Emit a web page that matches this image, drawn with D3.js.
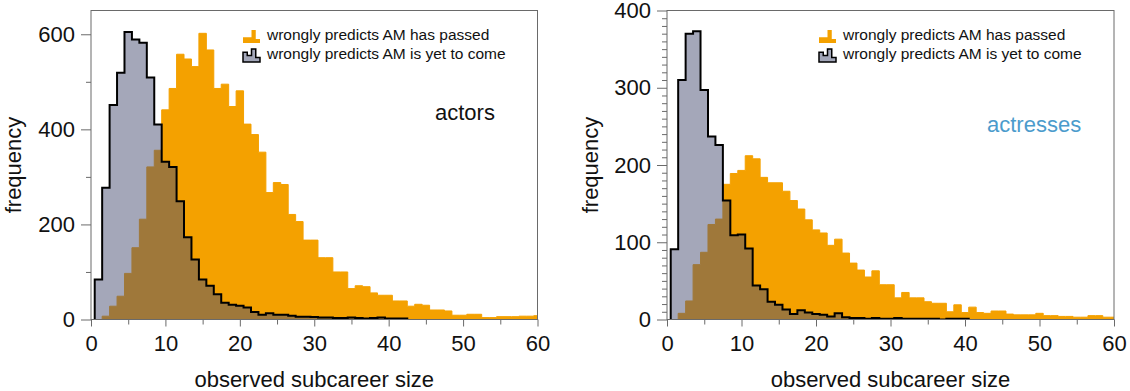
<!DOCTYPE html>
<html>
<head>
<meta charset="utf-8">
<script src="https://d3js.org/d3.v7.min.js"></script>
<style>
  body { margin: 0; background: #fff; }
  text { font-family: "Liberation Sans", Arial, sans-serif; }
</style>
</head>
<body>
<div id="chart"></div>
<script>
// histogram bins: subcareer size 1..60, one count per size
var sizes = d3.range(1, 61);

// actors
var actorsPassed = [0, 7, 28, 49, 97, 151, 211, 321, 356, 441, 486,
  558, 548, 532, 602, 567, 486, 495, 448, 481, 411,
  389, 352, 267, 288, 284, 221, 206, 167, 167, 130,
  130, 100, 100, 65, 71, 69, 56, 51, 51, 39,
  39, 28, 32, 30, 20, 20, 18, 9, 9, 11,
  11, 4, 4, 6, 6, 6, 7, 7, 8];
var actorsYet = [84, 277, 451, 519, 605, 589, 582, 509, 410, 332,
  321, 249, 173, 126, 84, 71, 53, 35, 31, 29,
  25, 16, 10, 13, 10, 10, 8, 6, 6, 5,
  4, 4, 3, 3, 4, 3, 2, 3, 4, 2,
  2, 2, 0, 0, 0, 0, 0, 0, 0, 0,
  0, 0, 0, 0, 0, 0, 0, 0, 0, 0];

// actresses
var actressesPassed = [0, 8, 24, 71, 87, 123, 130, 175, 189, 193, 212,
  208, 184, 177, 177, 166, 154, 143, 129, 116, 112,
  96, 104, 86, 73, 64, 55, 63, 45, 45,
  28, 35, 28, 28, 23, 21, 21, 10, 19, 9,
  16, 9, 8, 11, 11, 7, 6, 6, 6, 8,
  5, 5, 4, 4, 3, 3, 5, 5, 3, 3];
var actressesYet = [91, 310, 370, 373, 297, 237, 226, 154, 109, 110,
  92, 44, 39, 23, 19, 13, 7, 12, 9, 7,
  6, 4, 8, 3, 2, 2, 1, 2, 1, 1,
  2, 1, 1, 1, 1, 1, 0, 1, 1, 1,
  0, 0, 0, 0, 0, 0, 0, 0, 0, 0,
  0, 0, 0, 0, 0, 0, 0, 0, 0, 0];

var xTicks = [0, 10, 20, 30, 40, 50, 60];
var xMinor = [5, 15, 25, 35, 45, 55];
var legendLabels = ["wrongly predicts AM has passed", "wrongly predicts AM is yet to come"];

var width = 1130, height = 391;
var orange = "#f4a100",
    grayFill = "rgba(73,79,115,0.5)",
    axisColor = "#6a6a6a";

var svg = d3.select("#chart").append("svg")
  .attr("width", width)
  .attr("height", height);

var panels = [
  {name: "actors", nameColor: "#111", passed: actorsPassed, yet: actorsYet,
   x0: 91, x1: 537.5, yMax: 650, yTicks: [0, 200, 400, 600], yMinor: [100, 300, 500],
   ylabX: 21, nameX: 435, nameY: 119.5, legX: 243},
  {name: "actresses", nameColor: "#4b9bcc", passed: actressesPassed, yet: actressesYet,
   x0: 667, x1: 1114, yMax: 400, yTicks: [0, 100, 200, 300, 400],
   yMinor: d3.range(0, 401, 10).filter(function(v) { return v % 100 != 0; }),
   ylabX: 598, nameX: 987, nameY: 131.5, legX: 819}
];

var plotTop = 10.5, plotBottom = 319.5;

panels.forEach(function(p, pi) {
  var x = d3.scaleLinear().domain([0, 60]).range([p.x0, p.x1]);
  var y = d3.scaleLinear().domain([0, p.yMax]).range([plotBottom, plotTop]);

  var g = svg.append("g");

  g.append("clipPath").attr("id", "clip" + pi)
    .append("rect")
    .attr("x", p.x0).attr("y", plotTop)
    .attr("width", p.x1 - p.x0).attr("height", plotBottom - plotTop);

  // step outline of a histogram, bins centred on integer sizes
  function stepPoints(counts) {
    var pts = [[x(sizes[0] - 0.5), y(0)]];
    counts.forEach(function(c, i) {
      pts.push([x(sizes[i] - 0.5), y(c)]);
      pts.push([x(sizes[i] + 0.5), y(c)]);
    });
    pts.push([x(sizes[counts.length - 1] + 0.5), y(0)]);
    return pts;
  }
  // for the black outline: stop where the counts run out
  function lastNonZero(counts) {
    var k = counts.length - 1;
    while (k > 0 && counts[k] == 0) k--;
    return k;
  }

  var line = d3.line();
  var plot = g.append("g").attr("clip-path", "url(#clip" + pi + ")");

  plot.append("path")
    .attr("d", line(stepPoints(p.passed)) + "Z")
    .attr("fill", orange)
    .attr("stroke", orange)
    .attr("stroke-width", 1);

  var n = lastNonZero(p.yet);
  var yetPts = stepPoints(p.yet.slice(0, n + 1));
  plot.append("path")
    .attr("d", line(yetPts) + "Z")
    .attr("fill", grayFill);
  plot.append("path")
    .attr("d", line(yetPts))
    .attr("fill", "none")
    .attr("stroke", "#000")
    .attr("stroke-width", 2);

  // frame
  g.append("rect")
    .attr("x", p.x0).attr("y", plotTop)
    .attr("width", p.x1 - p.x0).attr("height", plotBottom - plotTop)
    .attr("fill", "none")
    .attr("stroke", axisColor)
    .attr("stroke-width", 1);

  // axes
  g.append("g")
    .attr("transform", "translate(" + p.x0 + ",0)")
    .call(d3.axisLeft(y).tickValues(p.yTicks).tickSize(10).tickPadding(6));
  g.append("g")
    .attr("transform", "translate(" + p.x0 + ",0)")
    .call(d3.axisLeft(y).tickValues(p.yMinor).tickSize(5).tickFormat(""));

  g.append("g")
    .attr("transform", "translate(0," + plotBottom + ")")
    .call(d3.axisBottom(x).tickValues(xTicks).tickSize(7).tickPadding(9));
  g.append("g")
    .attr("transform", "translate(0," + plotBottom + ")")
    .call(d3.axisBottom(x).tickValues(xMinor).tickSize(5).tickFormat(""));

  g.selectAll(".domain").remove();
  g.selectAll(".tick line").attr("stroke", axisColor);
  g.selectAll(".tick text")
    .attr("fill", "#111")
    .style("font-size", "22px");

  // axis titles
  g.append("text")
    .attr("transform", "translate(" + p.ylabX + "," + ((plotTop + plotBottom) / 2) + ") rotate(-90)")
    .attr("text-anchor", "middle")
    .style("font-size", "22px")
    .attr("fill", "#111")
    .text("frequency");

  g.append("text")
    .attr("x", (p.x0 + p.x1) / 2)
    .attr("y", 386.5)
    .attr("text-anchor", "middle")
    .style("font-size", "22px")
    .attr("fill", "#111")
    .text("observed subcareer size");

  // panel name
  g.append("text")
    .attr("x", p.nameX)
    .attr("y", p.nameY)
    .style("font-size", "22px")
    .attr("fill", p.nameColor)
    .text(p.name);

  // legend with small step icons
  var icons = [
    {h: [0.45, 0.45, 1, 0.3], fill: orange, stroke: "none"},
    {h: [0.75, 0.5, 1, 0.35], fill: "#a2a6b8", stroke: "#000"}
  ];
  icons.forEach(function(ic, i) {
    var bx = p.legX, by = 43 + i * 19, w = 17, hh = 13;
    var pts = [[bx, by]];
    ic.h.forEach(function(h, j) {
      pts.push([bx + j * w / 4, by - h * hh]);
      pts.push([bx + (j + 1) * w / 4, by - h * hh]);
    });
    pts.push([bx + w, by]);
    g.append("path")
      .attr("d", line(pts) + "Z")
      .attr("fill", ic.fill)
      .attr("stroke", ic.stroke)
      .attr("stroke-width", 1.5);
    g.append("text")
      .attr("x", p.legX + 24)
      .attr("y", 39.5 + i * 19)
      .style("font-size", "15.5px")
      .attr("fill", "#111")
      .text(legendLabels[i]);
  });
});
</script>
</body>
</html>
